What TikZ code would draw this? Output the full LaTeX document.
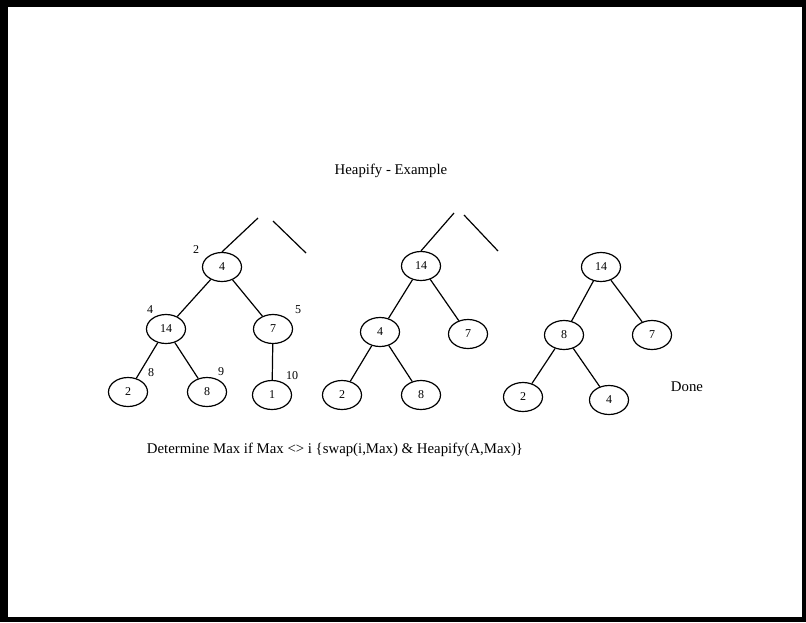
\documentclass[tikz,border=0pt]{standalone}
\usepackage{fontspec}
\setmainfont{Liberation Serif}
\usetikzlibrary{shapes.geometric}
\tikzset{
  heapnode/.style={draw,ellipse,line width=1.2pt,minimum width=39pt,
    minimum height=29pt,inner sep=0pt,font=\fontsize{12}{14}\selectfont},
  treeedge/.style={line width=1.2pt},
  idxlabel/.style={inner sep=0pt,font=\fontsize{12}{14}\selectfont},
  caption/.style={inner sep=0pt,font=\fontsize{14.8}{17}\selectfont}
}
\begin{document}
\begin{tikzpicture}[x=1pt,y=-1pt]
  \useasboundingbox (0,0) rectangle (806,622);
  \fill[black] (0,0) rectangle (806,622);
  \fill[white] (8,7) rectangle (802,617);

  \node[caption] (title) at (391,171) {Heapify - Example};

  % first tree: 4 sits at index 2
  \node[heapnode] (a2) at (222,267) {4};
  \node[heapnode] (a4) at (166,329) {14};
  \node[heapnode] (a5) at (273,329) {7};
  \node[heapnode] (a8) at (128,392) {2};
  \node[heapnode] (a9) at (207,392) {8};
  \node[heapnode] (a10) at (272,395) {1};
  \coordinate (a1l) at (258,218);
  \coordinate (a1r) at (273,221);
  \coordinate (a1rr) at (306,253);
  \draw[treeedge] (a2.north) -- (a1l);
  \draw[treeedge] (a1r) -- (a1rr);
  \draw[treeedge] (a2) -- (a4);
  \draw[treeedge] (a2) -- (a5);
  \draw[treeedge] (a4) -- (a8);
  \draw[treeedge] (a4) -- (a9);
  \draw[treeedge] (a5) -- (a10);
  \node[idxlabel] (i2) at (196,250) {2};
  \node[idxlabel] (i4) at (150,310) {4};
  \node[idxlabel] (i5) at (298,310) {5};
  \node[idxlabel] (i8) at (151,373) {8};
  \node[idxlabel] (i9) at (221,372) {9};
  \node[idxlabel] (i10) at (292,376) {10};

  % second tree: after swapping 4 and 14
  \node[heapnode] (b2) at (421,266) {14};
  \node[heapnode] (b4) at (380,332) {4};
  \node[heapnode] (b5) at (468,334) {7};
  \node[heapnode] (b8) at (342,395) {2};
  \node[heapnode] (b9) at (421,395) {8};
  \coordinate (b1l) at (454,213);
  \coordinate (b1r) at (464,215);
  \coordinate (b1rr) at (498,251);
  \draw[treeedge] (b2.north) -- (b1l);
  \draw[treeedge] (b1r) -- (b1rr);
  \draw[treeedge] (b2) -- (b4);
  \draw[treeedge] (b2) -- (b5);
  \draw[treeedge] (b4) -- (b8);
  \draw[treeedge] (b4) -- (b9);

  % third tree: after swapping 4 and 8
  \node[heapnode] (c2) at (601,267) {14};
  \node[heapnode] (c4) at (564,335) {8};
  \node[heapnode] (c5) at (652,335) {7};
  \node[heapnode] (c8) at (523,397) {2};
  \node[heapnode] (c9) at (609,400) {4};
  \draw[treeedge] (c2) -- (c4);
  \draw[treeedge] (c2) -- (c5);
  \draw[treeedge] (c4) -- (c8);
  \draw[treeedge] (c4) -- (c9);
  \node[caption] (done) at (687,387) {Done};

  \node[caption] (rule) at (335,450)
    {Determine Max if Max <> i \{swap(i,Max) \& Heapify(A,Max)\}};
\end{tikzpicture}
\end{document}
